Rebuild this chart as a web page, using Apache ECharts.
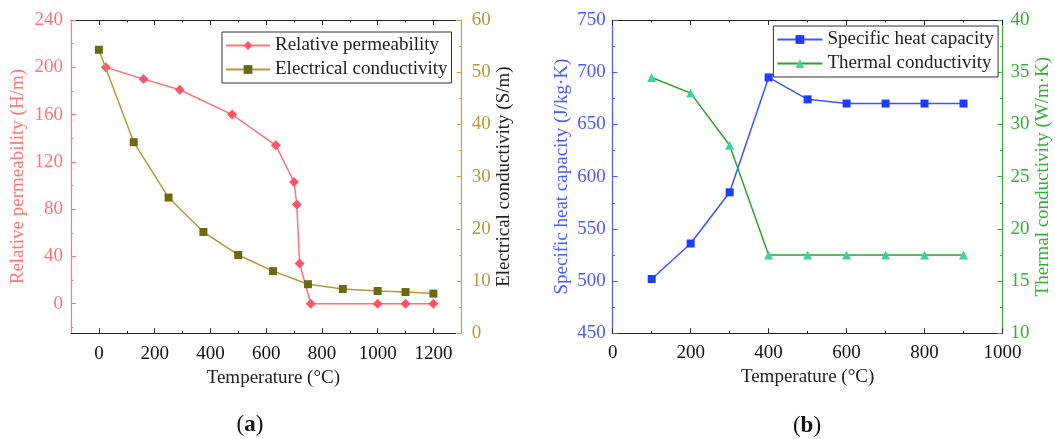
<!DOCTYPE html>
<html>
<head>
<meta charset="utf-8">
<script src="https://cdn.jsdelivr.net/npm/echarts@6/dist/echarts.min.js"></script>
<style>
html,body{margin:0;padding:0;background:#fff;}
#chart{width:1055px;height:439px;}
</style>
</head>
<body>
<div id="chart"></div>
<script>
// ---- Data: panel (a) ----
const tempPerm   = [25, 160, 290, 478, 635, 700, 710, 720, 760, 1000, 1100, 1200];
const permValues = [200, 190, 181, 160, 134, 103, 84, 34, 0, 0, 0, 0];
const tempCond   = [0, 125, 250, 375, 500, 625, 750, 875, 1000, 1100, 1200];
const condValues = [54.3, 36.6, 26.0, 19.4, 15.0, 11.9, 9.4, 8.5, 8.1, 7.9, 7.6];
// ---- Data: panel (b) ----
const tempB     = [100, 200, 300, 400, 500, 600, 700, 800, 900];
const heatCap   = [502, 536, 585, 695, 674, 670, 670, 670, 670];
const thermCond = [34.5, 33.0, 28.0, 17.5, 17.5, 17.5, 17.5, 17.5, 17.5];
// ---- Tick values ----
const xTicksA      = [0, 200, 400, 600, 800, 1000, 1200];
const xMinorTicksA = [100, 300, 500, 700, 900, 1100];
const yTicksA      = [0, 40, 80, 120, 160, 200, 240];
const yMinorTicksA = [-20, 20, 60, 100, 140, 180, 220];

const FONT = 'Liberation Serif';
const FS = 19;
const PINK = '#FF7575', PINK_M = '#FF5468';
const GOLD = '#B8973A', OLIVE_M = '#6B6A12', GOLD_AX = '#C4A24A';
const BLUE = '#3B55FF', BLUE_M = '#1E3CFF', BLUE_AX = '#4A5CFF';
const GREEN = '#2FA12F', GREEN_M = '#3CD49A', GREEN_AX = '#37AE37';

const pairs = (xs, ys) => xs.map((x, i) => [x, ys[i]]);
const plain = v => String(v);

const chart = echarts.init(document.getElementById('chart'), null, {renderer: 'canvas'});

const blackLine = {show: true, onZero: false, lineStyle: {color: '#222', width: 1.2}};
const hiddenLine = {show: false, onZero: false};
const noLabel = {show: false};
const colLine = c => ({show: true, onZero: false, lineStyle: {color: c, width: 1.2}});

chart.setOption({
  animation: false,
  backgroundColor: '#fff',
  grid: [
    {left: 71, top: 20, width: 384.7, height: 313.3},
    {left: 612.7, top: 20, width: 389.8, height: 313.3}
  ],
  xAxis: [
    { // 0: panel a bottom
      gridIndex: 0, type: 'value', position: 'bottom', offset: 0, min: -100, max: 1280,
      axisLine: blackLine,
      axisTick: {show: true, inside: true, length: 5, customValues: xTicksA, lineStyle: {color: '#222'}},
      axisLabel: {customValues: xTicksA, formatter: plain, color: '#111', fontFamily: FONT, fontSize: FS, margin: 11},
      splitLine: {show: false},
      name: 'Temperature (°C)', nameLocation: 'middle', nameGap: 31,
      nameTextStyle: {color: '#222', fontFamily: FONT, fontSize: FS, padding: [0, 0, 0, 20]}
    },
    { // 1: panel a bottom minor
      gridIndex: 0, type: 'value', position: 'bottom', offset: 0, min: -100, max: 1280,
      axisLine: hiddenLine,
      axisTick: {show: true, inside: true, length: 2.5, customValues: xMinorTicksA, lineStyle: {color: '#222'}},
      axisLabel: noLabel, splitLine: {show: false}
    },
    { // 2: panel a top
      gridIndex: 0, type: 'value', position: 'top', offset: 0, min: -100, max: 1280,
      axisLine: blackLine,
      axisTick: {show: true, inside: true, length: 5, customValues: xTicksA, lineStyle: {color: '#222'}},
      axisLabel: noLabel, splitLine: {show: false}
    },
    { // 3: panel a top minor
      gridIndex: 0, type: 'value', position: 'top', offset: 0, min: -100, max: 1280,
      axisLine: hiddenLine,
      axisTick: {show: true, inside: true, length: 2.5, customValues: xMinorTicksA, lineStyle: {color: '#222'}},
      axisLabel: noLabel, splitLine: {show: false}
    },
    { // 4: panel b bottom
      gridIndex: 1, type: 'value', position: 'bottom', offset: 0, min: 0, max: 1000, interval: 200,
      axisLine: blackLine,
      axisTick: {show: true, inside: true, length: 5, lineStyle: {color: '#222'}},
      minorTick: {show: true, splitNumber: 2, length: 2.5, lineStyle: {color: '#222'}},
      axisLabel: {formatter: plain, color: '#111', fontFamily: FONT, fontSize: FS, margin: 10},
      splitLine: {show: false},
      name: 'Temperature (°C)', nameLocation: 'middle', nameGap: 34,
      nameTextStyle: {color: '#222', fontFamily: FONT, fontSize: FS}
    },
    { // 5: panel b top
      gridIndex: 1, type: 'value', position: 'top', offset: 0, min: 0, max: 1000, interval: 200,
      axisLine: blackLine,
      axisTick: {show: true, inside: true, length: 5, lineStyle: {color: '#222'}},
      minorTick: {show: true, splitNumber: 2, length: 2.5, lineStyle: {color: '#222'}},
      axisLabel: noLabel, splitLine: {show: false}
    }
  ],
  yAxis: [
    { // 0: panel a left
      gridIndex: 0, type: 'value', position: 'left', offset: 0, min: -25, max: 240,
      axisLine: colLine(PINK),
      axisTick: {show: true, inside: true, length: 5, customValues: yTicksA, lineStyle: {color: PINK}},
      axisLabel: {customValues: yTicksA, formatter: plain, color: PINK, fontFamily: FONT, fontSize: FS, margin: 8},
      splitLine: {show: false},
      name: 'Relative permeability (H/m)', nameLocation: 'middle', nameGap: 43,
      nameTextStyle: {color: PINK, fontFamily: FONT, fontSize: FS}
    },
    { // 1: panel a left minor
      gridIndex: 0, type: 'value', position: 'left', offset: 0, min: -25, max: 240,
      axisLine: hiddenLine,
      axisTick: {show: true, inside: true, length: 2.5, customValues: yMinorTicksA, lineStyle: {color: PINK}},
      axisLabel: noLabel, splitLine: {show: false}
    },
    { // 2: panel a right
      gridIndex: 0, type: 'value', position: 'right', offset: 6, min: 0, max: 60, interval: 10,
      axisLine: colLine(GOLD_AX),
      axisTick: {show: true, inside: true, length: 5, lineStyle: {color: GOLD_AX}},
      minorTick: {show: true, splitNumber: 2, length: 2.5, lineStyle: {color: GOLD_AX}},
      axisLabel: {formatter: plain, color: GOLD, fontFamily: FONT, fontSize: FS, margin: 10},
      splitLine: {show: false},
      name: 'Electrical conductivity (S/m)', nameLocation: 'middle', nameGap: 33,
      nameTextStyle: {color: '#222', fontFamily: FONT, fontSize: FS}
    },
    { // 3: panel b left
      gridIndex: 1, type: 'value', position: 'left', offset: 0, min: 450, max: 750, interval: 50,
      axisLine: colLine(BLUE_AX),
      axisTick: {show: true, inside: true, length: 5, lineStyle: {color: BLUE_AX}},
      minorTick: {show: true, splitNumber: 2, length: 2.5, lineStyle: {color: BLUE_AX}},
      axisLabel: {formatter: plain, color: BLUE_AX, fontFamily: FONT, fontSize: FS, margin: 7},
      splitLine: {show: false},
      name: 'Specific heat capacity (J/kg·K)', nameLocation: 'middle', nameGap: 41,
      nameTextStyle: {color: BLUE_AX, fontFamily: FONT, fontSize: FS}
    },
    { // 4: panel b right
      gridIndex: 1, type: 'value', position: 'right', offset: 0, min: 10, max: 40, interval: 5,
      axisLine: colLine(GREEN_AX),
      axisTick: {show: true, inside: true, length: 5, lineStyle: {color: GREEN_AX}},
      minorTick: {show: true, splitNumber: 2, length: 2.5, lineStyle: {color: GREEN_AX}},
      axisLabel: {formatter: plain, color: GREEN_AX, fontFamily: FONT, fontSize: FS, margin: 8},
      splitLine: {show: false},
      name: 'Thermal conductivity (W/m·K)', nameLocation: 'middle', nameGap: 30,
      nameTextStyle: {color: GREEN_AX, fontFamily: FONT, fontSize: FS}
    }
  ],
  legend: [
    {
      data: ['Relative permeability', 'Electrical conductivity'],
      orient: 'vertical', left: 222, top: 32,
      padding: [4, 4, 4, 3], itemGap: 5, itemWidth: 44, itemHeight: 11,
      borderColor: '#333', borderWidth: 1, backgroundColor: '#fff',
      textStyle: {color: '#222', fontFamily: FONT, fontSize: FS}
    },
    {
      data: ['Specific heat capacity', 'Thermal conductivity'],
      orient: 'vertical', left: 773.4, top: 26,
      padding: [4, 4, 4, 3], itemGap: 5, itemWidth: 45, itemHeight: 11,
      borderColor: '#333', borderWidth: 1, backgroundColor: '#fff',
      textStyle: {color: '#222', fontFamily: FONT, fontSize: FS}
    }
  ],
  series: [
    {
      name: 'Relative permeability', type: 'line', xAxisIndex: 0, yAxisIndex: 0,
      data: pairs(tempPerm, permValues),
      symbol: 'diamond', symbolSize: 10,
      lineStyle: {color: PINK, width: 1.5}, itemStyle: {color: PINK_M}, z: 3
    },
    {
      name: 'Electrical conductivity', type: 'line', xAxisIndex: 0, yAxisIndex: 2,
      data: pairs(tempCond, condValues),
      symbol: 'rect', symbolSize: 8,
      lineStyle: {color: GOLD, width: 1.5}, itemStyle: {color: OLIVE_M}, z: 4
    },
    {
      name: 'Specific heat capacity', type: 'line', xAxisIndex: 4, yAxisIndex: 3,
      data: pairs(tempB, heatCap),
      symbol: 'rect', symbolSize: 8,
      lineStyle: {color: BLUE, width: 1.5}, itemStyle: {color: BLUE_M}, z: 3
    },
    {
      name: 'Thermal conductivity', type: 'line', xAxisIndex: 4, yAxisIndex: 4,
      data: pairs(tempB, thermCond),
      symbol: 'triangle', symbolSize: 9,
      lineStyle: {color: GREEN, width: 1.5}, itemStyle: {color: GREEN_M}, z: 4
    }
  ],
  graphic: [
    {
      type: 'text', x: 250, y: 425,
      style: {
        text: '{p|(}{b|a}{p|)}', align: 'center', verticalAlign: 'middle',
        rich: {
          p: {fontFamily: FONT, fontSize: 23, fill: '#111', color: '#111'},
          b: {fontFamily: FONT, fontSize: 23, fontWeight: 'bold', fill: '#111', color: '#111'}
        }
      }
    },
    {
      type: 'text', x: 807, y: 426,
      style: {
        text: '{p|(}{b|b}{p|)}', align: 'center', verticalAlign: 'middle',
        rich: {
          p: {fontFamily: FONT, fontSize: 23, fill: '#111', color: '#111'},
          b: {fontFamily: FONT, fontSize: 23, fontWeight: 'bold', fill: '#111', color: '#111'}
        }
      }
    }
  ]
});
</script>
</body>
</html>
